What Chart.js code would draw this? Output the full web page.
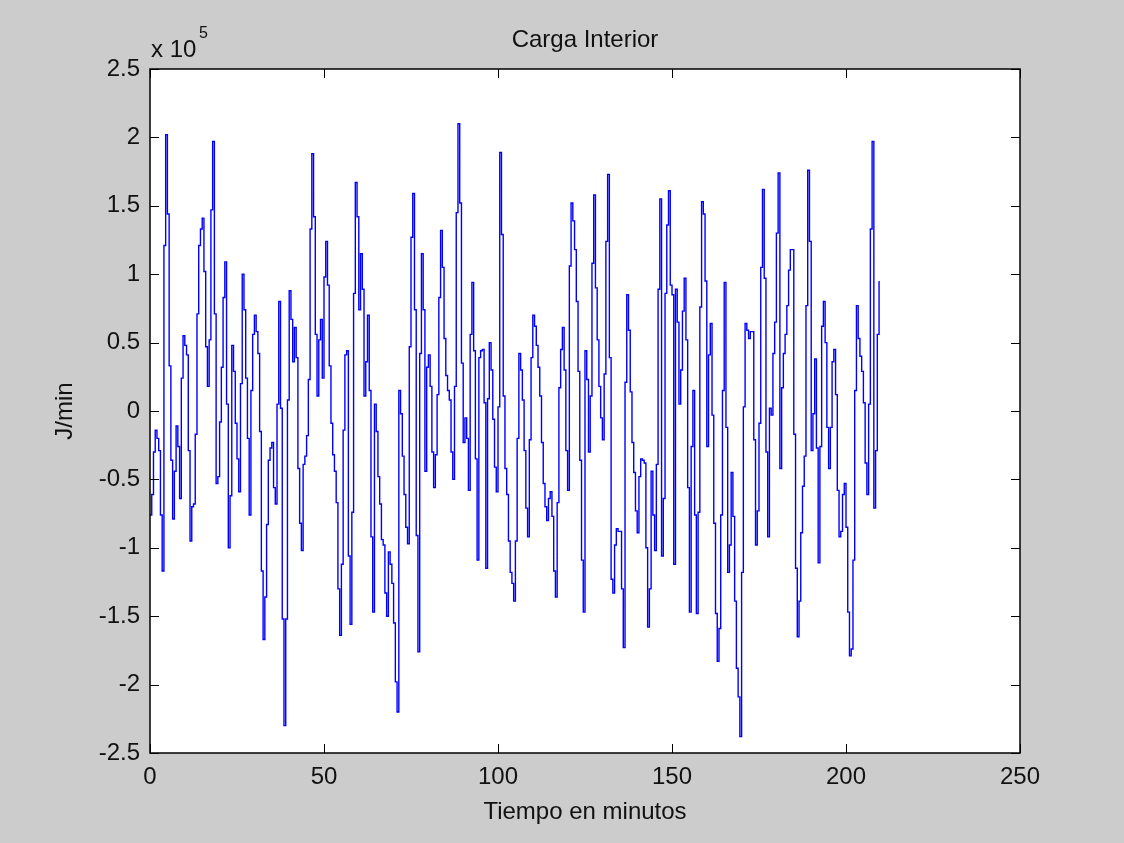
<!DOCTYPE html>
<html>
<head>
<meta charset="utf-8">
<title>Carga Interior</title>
<script src="https://cdn.jsdelivr.net/npm/chart.js@4.4.1/dist/chart.umd.min.js"></script>
<style>
  html, body { margin: 0; padding: 0; background: #cccccc; }
  #wrap { width: 1124px; height: 843px; }
</style>
</head>
<body>
<div id="wrap"><canvas id="cargaChart" width="1124" height="843"></canvas></div>
<script>
// interior load in J/min, values in units of 1e5, one sample every half minute
var timeStep = 0.5;
var cargaInterior = [
    -0.76, -0.61, -0.30, -0.14, -0.20, -0.29, -0.76, -1.17, 1.21, 2.02,
    1.44, 0.33, -0.36, -0.79, -0.44, -0.11, -0.26, -0.64, 0.24, 0.55,
    0.48, 0.41, -0.29, -0.95, -0.70, -0.68, -0.17, 0.71, 1.21, 1.33,
    1.41, 1.02, 0.47, 0.18, 0.52, 1.47, 1.97, 0.71, -0.53, -0.48,
    -0.08, 0.32, 0.83, 1.09, 0.05, -1.00, -0.62, 0.48, 0.29, -0.09,
    -0.35, -0.59, 0.20, 1.00, 0.74, 0.24, -0.20, -0.76, 0.15, 0.56,
    0.70, 0.58, 0.42, -0.15, -1.17, -1.67, -1.36, -0.83, -0.36, -0.27,
    -0.23, -0.56, -0.68, 0.05, 0.80, 0.02, -1.52, -2.30, -1.52, 0.08,
    0.88, 0.67, 0.36, 0.61, 0.39, -0.42, -0.82, -1.02, -0.39, -0.33,
    -0.18, 0.23, 1.33, 1.88, 1.42, 0.56, 0.11, 0.52, 0.67, 0.24,
    0.98, 1.24, 0.92, 0.33, -0.09, -0.32, -0.44, -0.67, -1.30, -1.64,
    -1.12, -0.14, 0.41, 0.44, -1.06, -1.56, -0.74, 0.86, 1.67, 1.42,
    0.74, 1.15, 0.89, 0.11, 0.36, 0.70, 0.15, -0.92, -1.47, 0.05,
    -0.15, -0.48, -0.68, -0.94, -0.98, -1.33, -1.50, -1.03, -1.12, -1.26,
    -1.55, -1.98, -2.20, 0.15, -0.02, -0.33, -0.61, -0.85, -0.97, 0.47,
    1.27, 1.59, 0.74, -0.91, -1.76, 0.42, 1.15, 0.74, -0.44, 0.32,
    0.41, 0.18, -0.30, -0.56, -0.32, 0.12, 0.83, 1.32, 1.05, 0.53,
    0.26, 0.15, 0.08, -0.30, -0.50, 0.18, 1.45, 2.10, 1.52, 0.35,
    -0.23, -0.05, -0.20, -0.58, 0.56, 0.94, 0.44, -0.35, -1.09, 0.39,
    0.44, 0.45, 0.06, -1.15, 0.09, 0.50, 0.30, -0.06, -0.41, -0.59,
    0.03, 1.89, 1.29, 0.11, -0.42, -0.61, -0.95, -1.18, -1.26, -1.39,
    -0.95, -0.20, 0.42, 0.30, 0.08, -0.29, -0.71, -0.92, -0.21, 0.39,
    0.70, 0.62, 0.48, 0.32, 0.11, -0.23, -0.53, -0.70, -0.80, -0.64,
    -0.59, -0.77, -1.17, -1.36, -0.67, 0.17, 0.45, 0.61, 0.30, -0.29,
    -0.58, 1.06, 1.52, 1.39, 1.18, 0.80, 0.29, -0.36, -1.09, -1.47,
    0.44, 0.23, -0.30, 0.11, 1.08, 1.58, 0.90, 0.52, 0.18, -0.05,
    -0.21, 0.27, 1.24, 1.73, 0.39, -1.23, -1.33, -0.98, -0.86, -0.88,
    -0.88, -1.30, -1.73, 0.21, 0.85, 0.59, 0.14, -0.23, -0.45, -0.73,
    -0.89, -0.48, -0.35, -0.36, -0.38, -1.00, -1.58, -1.30, -0.44, -0.76,
    -1.02, -0.39, 0.89, 1.55, -1.06, -0.64, 0.86, 1.36, 1.61, 0.92,
    0.85, -1.12, 0.89, 0.65, 0.05, 0.30, 0.73, 0.97, 0.52, -0.56,
    -1.47, -0.26, 0.15, -0.76, -1.48, -0.74, 0.76, 1.53, 1.44, 0.95,
    -0.26, 0.41, 0.64, -0.03, -0.82, -1.48, -1.83, -1.59, -0.76, 0.15,
    0.94, -0.12, -1.18, -0.98, -0.45, -0.77, -1.39, -1.88, -2.09, -2.38,
    -1.18, 0.03, 0.64, 0.59, 0.53, 0.58, 0.58, -0.21, -0.98, -0.73,
    -0.09, 1.05, 1.62, 0.97, -0.30, -0.92, 0.02, -0.03, 0.42, 0.65,
    1.30, 1.74, -0.42, 0.17, 0.42, 0.56, 0.77, 1.03, 1.18, 1.18,
    -0.17, -1.15, -1.65, -1.39, -0.89, -0.55, -0.33, 0.77, 1.76, 1.24,
    -0.29, -0.02, 0.38, -0.27, -1.11, -0.26, 0.62, 0.80, 0.50, -0.12,
    -0.42, -0.12, 0.36, 0.45, 0.12, -0.58, -0.92, -0.88, -0.61, -0.53,
    -0.85, -1.47, -1.79, -1.74, -1.09, 0.15, 0.77, 0.53, 0.40, 0.29,
    0.06, -0.38, -0.61, 0.05, 1.33, 1.97, -0.71, -0.29, 0.56, 0.95
];
var xTicks = [0, 50, 100, 150, 200, 250];
var yTicks = [-2.5, -2, -1.5, -1, -0.5, 0, 0.5, 1, 1.5, 2, 2.5];

var fontFamily = '"Liberation Sans", Arial, Helvetica, sans-serif';
var textColor = '#111111';

var points = cargaInterior.map(function(v, i) {
    return { x: i * timeStep, y: v };
});

// grey figure, white axes
var figureBackground = {
    id: 'figureBackground',
    beforeDraw: function(chart) {
        var c = chart.ctx, a = chart.chartArea;
        c.save();
        c.fillStyle = '#cccccc';
        c.fillRect(0, 0, chart.width, chart.height);
        c.fillStyle = '#ffffff';
        c.fillRect(a.left, a.top, a.right - a.left, a.bottom - a.top);
        c.restore();
    }
};

// box with inward ticks on all four sides, plus the x 10^5 exponent
var matlabBox = {
    id: 'matlabBox',
    afterDraw: function(chart) {
        var c = chart.ctx, a = chart.chartArea;
        var xs = chart.scales.x, ys = chart.scales.y;
        var tl = 9;
        c.save();
        c.strokeStyle = '#000000';
        c.lineWidth = 1;
        c.beginPath();
        xTicks.forEach(function(t) {
            var px = Math.round(xs.getPixelForValue(t)) + 0.5;
            c.moveTo(px, a.bottom); c.lineTo(px, a.bottom - tl);
            c.moveTo(px, a.top); c.lineTo(px, a.top + tl);
        });
        yTicks.forEach(function(t) {
            var py = Math.round(ys.getPixelForValue(t)) + 0.5;
            c.moveTo(a.left, py); c.lineTo(a.left + tl, py);
            c.moveTo(a.right, py); c.lineTo(a.right - tl, py);
        });
        c.stroke();
        c.lineWidth = 1.5;
        c.strokeRect(a.left, a.top, a.right - a.left, a.bottom - a.top);

        c.fillStyle = textColor;
        c.textBaseline = 'alphabetic';
        c.textAlign = 'left';
        c.font = '24px ' + fontFamily;
        c.fillText('x 10', a.left + 1, 57);
        c.font = '16px ' + fontFamily;
        c.fillText('5', a.left + 49, 38);
        c.restore();
    }
};

var ctx = document.getElementById('cargaChart').getContext('2d');
var cargaChart = new Chart(ctx, {
    type: 'line',
    data: {
        datasets: [{
            label: 'Carga Interior',
            data: points,
            borderColor: '#0000ff',
            borderWidth: 1.4,
            pointRadius: 0,
            stepped: true,
            fill: false
        }]
    },
    options: {
        responsive: false,
        animation: false,
        devicePixelRatio: 1,
        layout: {
            padding: { left: 0, right: 104, top: 0, bottom: 0 }
        },
        plugins: {
            legend: { display: false },
            tooltip: { enabled: false },
            title: {
                display: true,
                fullSize: false,
                text: 'Carga Interior',
                color: textColor,
                font: { family: fontFamily, size: 24, weight: 'normal' },
                padding: { top: 26, bottom: 14.2 }
            }
        },
        scales: {
            x: {
                type: 'linear',
                min: 0,
                max: 250,
                afterBuildTicks: function(scale) {
                    scale.ticks = xTicks.map(function(v) { return { value: v }; });
                },
                afterFit: function(scale) { scale.height = 90; },
                ticks: {
                    color: textColor,
                    font: { family: fontFamily, size: 24 },
                    padding: 10,
                    maxRotation: 0,
                    callback: function(value) { return String(value); }
                },
                grid: { display: false, drawTicks: false },
                border: { display: false },
                title: {
                    display: true,
                    text: 'Tiempo en minutos',
                    color: textColor,
                    font: { family: fontFamily, size: 24 },
                    padding: { top: 0, bottom: 16.6 }
                }
            },
            y: {
                type: 'linear',
                min: -2.5,
                max: 2.5,
                afterBuildTicks: function(scale) {
                    scale.ticks = yTicks.map(function(v) { return { value: v }; });
                },
                afterFit: function(scale) { scale.width = 150; },
                ticks: {
                    color: textColor,
                    font: { family: fontFamily, size: 24 },
                    padding: 10,
                    callback: function(value) { return String(value); }
                },
                grid: { display: false, drawTicks: false },
                border: { display: false },
                title: {
                    display: true,
                    text: 'J/min',
                    color: textColor,
                    font: { family: fontFamily, size: 24 },
                    padding: { top: 50.6, bottom: 0 }
                }
            }
        }
    },
    plugins: [figureBackground, matlabBox]
});
</script>
</body>
</html>
